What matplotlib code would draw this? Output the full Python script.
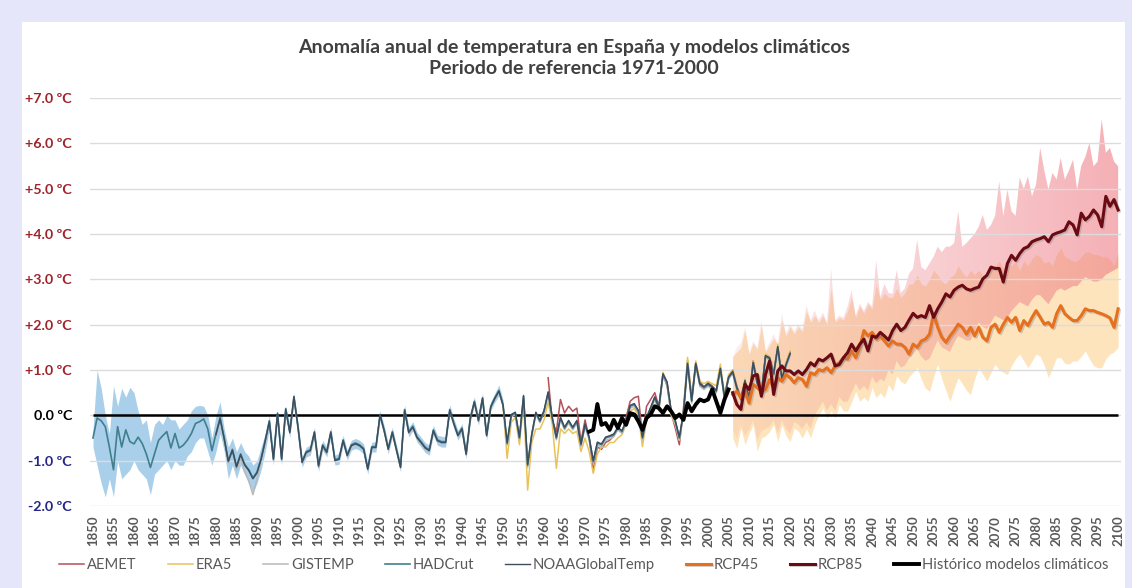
import numpy as np
import matplotlib
matplotlib.use("Agg")
from matplotlib import pyplot as plt
from matplotlib.patches import Rectangle
from matplotlib.colors import to_rgb
import matplotlib.patheffects as pe

plt.rcParams['font.family'] = ['Lato', 'DejaVu Sans']

# ---- data (anomalias en ºC, periodo de referencia 1971-2000) ----
years_obs = np.arange(1850, 2021)
hadcrut = [
    -0.50, -0.06, -0.12, -0.25, -0.70, -1.20, -0.25, -0.70, -0.32, -0.58,
    -0.63, -0.48, -0.62, -0.85, -1.15, -0.85, -0.55, -0.45, -0.36, -0.72,
    -0.40, -0.72, -0.66, -0.55, -0.40, -0.18, -0.14, -0.08, -0.30, -0.78,
    -0.40, -0.05, -0.50, -1.00, -0.75, -1.12, -0.85, -1.08, -1.20, -1.38,
    -1.25, -0.95, -0.55, -0.12, -0.95, 0.05, -0.95, 0.15, -0.36, 0.40,
    -0.25, -1.02, -0.80, -0.76, -0.36, -1.10, -0.65, -0.80, -0.36, -0.98,
    -0.95, -0.54, -0.87, -0.65, -0.61, -0.65, -0.73, -1.17, -0.69, -0.69,
    0.00, -0.32, -0.73, -0.36, -0.75, -1.13, 0.13, -0.36, -0.24, -0.47,
    -0.58, -0.70, -0.76, -0.32, -0.54, -0.58, -0.58, 0.13, -0.17, -0.43,
    -0.28, -0.84, -0.06, 0.31, -0.10, 0.39, -0.43, 0.20, 0.39, 0.55,
    0.24, -0.62, 0.00, 0.05, -0.50, 0.42, -1.10, -0.43, 0.05, -0.13,
    0.09, 0.50, -0.06, -0.50, -0.06, -0.28, -0.13, -0.28, -0.13, -0.65,
    -0.21, -0.50, -1.02, -0.61, -0.65, -0.50, -0.47, -0.43, -0.28, -0.36,
    -0.13, 0.20, 0.24, 0.09, -0.50, -0.06, 0.16, 0.39, 0.16, 0.90,
    0.72, 0.09, -0.13, -0.50, 0.05, 1.13, 0.31, 1.13, 0.68, 0.61,
    0.68, 0.61, 0.53, 1.02, 0.39, 0.83, 0.95, 0.60, 0.35, 0.75,
    0.35, 1.15, 0.70, 0.45, 1.30, 1.25, 0.90, 1.50, 0.80, 1.10,
    1.35]

# rango de incertidumbre HADCrut
years_band = np.arange(1850, 1951)
hadcrut_hi = [
    -0.30, 1.00, 0.60, 0.00, -0.40, 0.65, 0.20, 0.60, 0.40, 0.62,
    0.50, 0.10, -0.20, -0.10, -0.60, -0.20, -0.10, -0.20, 0.00, -0.10,
    -0.10, -0.30, -0.20, -0.10, 0.10, 0.20, 0.22, 0.20, 0.00, -0.50,
    0.00, 0.30, -0.30, -0.70, -0.50, -0.80, -0.60, -0.80, -0.90, -1.10,
    -1.00, -0.70, -0.40, 0.00, -0.80, 0.10, -0.80, 0.20, -0.20, 0.50,
    -0.15, -0.92, -0.70, -0.66, -0.26, -0.98, -0.55, -0.70, -0.26, -0.88,
    -0.83, -0.44, -0.77, -0.55, -0.51, -0.55, -0.63, -1.05, -0.59, -0.59,
    0.10, -0.22, -0.63, -0.26, -0.65, -1.03, 0.23, -0.26, -0.14, -0.37,
    -0.48, -0.60, -0.66, -0.22, -0.44, -0.46, -0.48, 0.23, -0.07, -0.33,
    -0.18, -0.74, 0.04, 0.41, 0.00, 0.49, -0.33, 0.30, 0.49, 0.67,
    0.34]
hadcrut_lo = [
    -0.70, -1.10, -1.50, -1.80, -1.40, -1.80, -1.00, -1.40, -1.30, -1.20,
    -1.00, -1.20, -1.30, -1.40, -1.75, -1.30, -1.20, -1.10, -1.00, -1.20,
    -1.00, -1.10, -1.10, -0.90, -0.80, -0.60, -0.50, -0.50, -0.80, -1.10,
    -0.80, -0.40, -0.80, -1.40, -1.10, -1.40, -1.10, -1.30, -1.50, -1.70,
    -1.50, -1.20, -0.80, -0.30, -1.10, -0.10, -1.10, 0.00, -0.50, 0.30,
    -0.35, -1.15, -0.92, -0.88, -0.48, -1.24, -0.77, -0.92, -0.48, -1.10,
    -1.08, -0.66, -0.99, -0.77, -0.73, -0.77, -0.85, -1.30, -0.81, -0.81,
    -0.10, -0.44, -0.85, -0.48, -0.87, -1.25, 0.03, -0.48, -0.34, -0.59,
    -0.70, -0.82, -0.88, -0.44, -0.66, -0.70, -0.70, 0.03, -0.29, -0.55,
    -0.38, -0.96, -0.16, 0.21, -0.22, 0.29, -0.55, 0.10, 0.29, 0.43,
    0.14]

years_gis = np.arange(1880, 2021)
gistemp = [
    -0.45, -0.10, -0.55, -1.05, -0.80, -1.20, -0.95, -1.25, -1.45, -1.75,
    -1.40, -1.00, -0.60, -0.15, -1.00, 0.00, -1.00, 0.10, -0.40, 0.35,
    -0.30, -1.05, -0.85, -0.80, -0.40, -1.15, -0.70, -0.85, -0.40, -1.00,
    -0.98, -0.58, -0.90, -0.68, -0.64, -0.68, -0.76, -1.20, -0.72, -0.72,
    -0.03, -0.35, -0.76, -0.40, -0.78, -1.16, 0.10, -0.40, -0.28, -0.50,
    -0.62, -0.74, -0.80, -0.36, -0.58, -0.62, -0.62, 0.10, -0.20, -0.46,
    -0.32, -0.88, -0.10, 0.28, -0.14, 0.36, -0.46, 0.17, 0.36, 0.52,
    0.20, -0.66, -0.04, 0.02, -0.54, 0.38, -1.15, -0.47, 0.02, -0.16,
    0.06, 0.47, -0.10, -0.54, -0.10, -0.32, -0.17, -0.32, -0.17, -0.69,
    -0.25, -0.54, -1.06, -0.65, -0.70, -0.55, -0.52, -0.47, -0.32, -0.40,
    -0.17, 0.16, 0.20, 0.05, -0.54, -0.10, 0.12, 0.35, 0.12, 0.86,
    0.68, 0.05, -0.17, -0.55, 0.01, 1.10, 0.27, 1.10, 0.64, 0.57,
    0.64, 0.57, 0.49, 0.98, 0.35, 0.80, 0.92, 0.56, 0.31, 0.71,
    0.31, 1.12, 0.66, 0.41, 1.27, 1.22, 0.86, 1.47, 0.76, 1.06,
    1.32]
noaa = [
    -0.42, -0.08, -0.52, -1.02, -0.77, -1.14, -0.87, -1.10, -1.22, -1.40,
    -1.27, -0.97, -0.57, -0.14, -0.97, 0.03, -0.97, 0.13, -0.38, 0.42,
    -0.27, -1.04, -0.82, -0.78, -0.38, -1.12, -0.67, -0.82, -0.38, -1.00,
    -0.97, -0.56, -0.89, -0.67, -0.63, -0.67, -0.75, -1.19, -0.71, -0.71,
    0.02, -0.34, -0.75, -0.38, -0.77, -1.15, 0.11, -0.38, -0.26, -0.49,
    -0.60, -0.72, -0.78, -0.34, -0.56, -0.60, -0.60, 0.11, -0.19, -0.45,
    -0.30, -0.86, -0.08, 0.29, -0.12, 0.37, -0.45, 0.18, 0.37, 0.53,
    0.22, -0.60, 0.02, 0.07, -0.48, 0.44, -1.08, -0.41, 0.07, -0.11,
    0.11, 0.52, -0.04, -0.48, -0.04, -0.26, -0.11, -0.26, -0.11, -0.63,
    -0.19, -0.48, -1.00, -0.59, -0.63, -0.48, -0.45, -0.41, -0.26, -0.34,
    -0.11, 0.22, 0.26, 0.11, -0.48, -0.04, 0.18, 0.41, 0.18, 0.92,
    0.74, 0.11, -0.11, -0.48, 0.07, 1.15, 0.33, 1.15, 0.70, 0.63,
    0.70, 0.63, 0.55, 1.04, 0.41, 0.85, 0.97, 0.62, 0.37, 0.77,
    0.37, 1.17, 0.72, 0.47, 1.32, 1.27, 0.92, 1.52, 0.82, 1.12,
    1.37]

years_era5 = np.arange(1950, 2021)
era5 = [
    0.20, -0.95, -0.15, -0.05, -0.65, 0.30, -1.65, -0.60, -0.30, -0.30,
    -0.10, 0.30, -0.20, -1.17, -0.30, -0.40, -0.30, -0.40, -0.35, -0.80,
    -0.50, -0.80, -1.28, -0.85, -0.70, -0.70, -0.60, -0.60, -0.50, -0.43,
    -0.20, 0.10, 0.15, 0.00, -0.69, -0.10, 0.10, 0.35, 0.10, 0.95,
    0.70, 0.00, -0.20, -0.55, 0.10, 1.28, 0.35, 1.20, 0.75, 0.70,
    0.75, 0.70, 0.65, 1.13, 0.45, 0.90, 1.00, 0.62, 0.40, 0.80,
    0.38, 1.20, 0.75, 0.48, 1.35, 1.30, 0.95, 1.57, 0.85, 1.15,
    1.42]

years_aemet = np.arange(1961, 2021)
aemet = [
    0.83, -0.13, -0.36, 0.35, 0.05, 0.20, 0.09, 0.16, -0.58,
    -0.10, -0.50, -1.24, -0.70, -0.75, -0.60, -0.55, -0.45, -0.30, -0.15,
    -0.05, 0.31, 0.39, 0.42, -0.45, 0.20, 0.35, 0.50, 0.20, 0.90,
    0.65, 0.05, -0.28, -0.65, 0.15, 1.21, 0.40, 1.15, 0.75, 0.62,
    0.72, 0.65, 0.55, 1.05, 0.45, 0.80, 1.00, 0.65, 0.40, 0.75,
    0.40, 1.20, 0.75, 0.50, 1.30, 1.28, 0.95, 1.50, 0.85, 1.15,
    1.40]

years_hist_mod = np.arange(1971, 2006)
hist_modelos = [
    -0.36, -0.32, 0.25, -0.21, -0.17, -0.32, -0.10, -0.28, -0.06, -0.21,
    0.05, 0.02, -0.13, -0.32, -0.06, 0.02, 0.20, 0.16, 0.05, 0.20,
    0.09, -0.06, 0.02, -0.10, 0.27, 0.09, 0.24, 0.35, 0.31, 0.35,
    0.57, 0.31, 0.05, 0.35, 0.57]

years_rcp = np.arange(2006, 2101)
rcp85 = [
    0.50, 0.24, 0.13, 0.68, 0.57, 0.87, 0.90, 0.42, 0.90, 1.20,
    0.46, 0.98, 1.09, 0.98, 0.98, 0.90, 0.98, 0.90, 1.01, 1.16,
    1.09, 1.24, 1.20, 1.27, 1.35, 1.09, 1.12, 1.27, 1.38, 1.57,
    1.42, 1.57, 1.68, 1.42, 1.75, 1.72, 1.83, 1.75, 1.66, 1.87,
    2.01, 1.87, 1.94, 2.10, 2.25, 2.16, 2.20, 2.16, 2.42, 2.16,
    2.35, 2.50, 2.68, 2.61, 2.76, 2.83, 2.87, 2.79, 2.76, 2.80,
    2.83, 3.01, 3.09, 3.27, 3.24, 3.24, 2.94, 3.35, 3.53, 3.42,
    3.57, 3.68, 3.72, 3.83, 3.87, 3.90, 3.94, 3.83, 3.98, 4.02,
    4.05, 4.09, 4.27, 4.20, 3.98, 4.46, 4.31, 4.39, 4.53, 4.42,
    4.16, 4.83, 4.61, 4.76, 4.53]
rcp85_hi = [
    1.27, 1.50, 1.60, 1.94, 1.40, 1.64, 1.50, 2.09, 1.42, 1.60,
    1.79, 1.60, 2.24, 1.80, 2.01, 1.85, 2.01, 1.90, 2.42, 2.10,
    2.31, 2.10, 2.27, 2.05, 3.24, 2.09, 2.20, 2.15, 2.40, 2.76,
    2.20, 2.46, 2.30, 2.50, 2.40, 3.42, 2.61, 2.90, 2.70, 2.68,
    3.20, 2.70, 2.80, 3.12, 3.24, 3.87, 3.27, 3.20, 3.35, 3.50,
    3.72, 3.60, 3.72, 3.72, 3.80, 4.50, 3.72, 3.80, 3.90, 4.00,
    4.16, 4.42, 4.09, 4.20, 4.40, 5.16, 4.40, 4.98, 4.50, 4.40,
    5.24, 5.00, 5.27, 4.83, 5.10, 5.90, 5.40, 4.98, 5.35, 5.20,
    5.68, 5.20, 5.40, 5.64, 4.98, 5.50, 5.70, 6.01, 5.49, 5.60,
    6.53, 5.79, 5.90, 5.60, 5.49]
rcp85_lo = [
    -0.30, -0.50, -0.20, -0.45, -0.30, -0.10, -0.55, -0.35, -0.30, -0.25,
    -0.10, -0.40, -0.10, -0.30, -0.40, -0.15, -0.20, -0.30, -0.15, -0.30,
    0.00, 0.15, 0.30, 0.10, 0.25, 0.10, 0.40, 0.30, 0.30, 0.50,
    0.70, 0.55, 0.65, 0.55, 0.85, 0.70, 0.80, 0.75, 1.00, 0.90,
    1.20, 1.05, 1.10, 1.25, 1.35, 1.45, 1.30, 1.20, 1.25, 1.45,
    1.65, 1.50, 1.45, 1.40, 1.60, 1.75, 1.70, 1.65, 1.65, 1.85,
    2.05, 1.95, 1.90, 2.05, 2.20, 2.15, 2.10, 2.15, 2.30, 2.40,
    2.50, 2.45, 2.40, 2.55, 2.65, 2.65, 2.55, 2.45, 2.60, 2.75,
    2.80, 2.75, 2.80, 2.85, 2.85, 2.95, 3.05, 3.00, 2.95, 2.95,
    3.00, 3.10, 3.15, 3.20, 3.25]
rcp45 = [
    0.46, 0.53, 0.39, 0.53, 0.27, 0.68, 0.61, 0.53, 0.57, 0.79,
    0.61, 0.83, 0.75, 0.90, 0.83, 0.72, 0.83, 0.79, 0.64, 0.94,
    0.90, 1.01, 0.98, 1.05, 0.94, 1.09, 1.16, 1.27, 1.24, 1.42,
    1.27, 1.50, 1.87, 1.75, 1.83, 1.68, 1.75, 1.64, 1.53, 1.64,
    1.57, 1.57, 1.50, 1.35, 1.57, 1.50, 1.64, 1.68, 1.79, 2.24,
    1.94, 1.72, 1.61, 1.75, 1.87, 2.01, 1.94, 1.79, 1.94, 1.75,
    1.94, 1.72, 1.64, 1.94, 2.01, 1.83, 2.01, 2.16, 2.05, 2.16,
    1.87, 2.09, 1.98, 2.16, 2.31, 2.16, 2.01, 2.05, 1.94, 2.24,
    2.42, 2.24, 2.16, 2.09, 2.09, 2.20, 2.35, 2.31, 2.31, 2.27,
    2.24, 2.20, 2.15, 1.94, 2.35]
rcp45_hi = [
    1.30, 1.40, 1.50, 1.90, 1.35, 1.60, 1.45, 2.00, 1.40, 1.55,
    1.70, 1.55, 2.10, 1.75, 1.95, 1.80, 1.95, 1.85, 2.30, 2.05,
    2.20, 2.05, 2.20, 2.00, 2.80, 2.05, 2.15, 2.10, 2.30, 2.60,
    2.15, 2.40, 2.25, 2.45, 2.35, 2.90, 2.55, 2.70, 2.60, 2.60,
    2.80, 2.60, 2.70, 2.90, 2.90, 3.10, 2.90, 2.85, 3.00, 3.20,
    3.10, 2.95, 2.90, 3.05, 3.10, 3.30, 3.15, 3.05, 3.20, 3.10,
    3.20, 3.10, 3.00, 3.25, 3.30, 3.40, 3.25, 3.35, 3.30, 3.40,
    3.20, 3.40, 3.30, 3.45, 3.55, 3.50, 3.35, 3.40, 3.30, 3.55,
    3.70, 3.50, 3.45, 3.40, 3.40, 3.50, 3.60, 3.60, 3.55, 3.55,
    3.50, 3.50, 3.45, 3.30, 3.60]
rcp45_lo = [
    -0.50, -0.73, -0.28, -0.65, -0.40, -0.20, -0.80, -0.50, -0.45, -0.36,
    -0.20, -0.58, -0.21, -0.45, -0.58, -0.28, -0.35, -0.50, -0.30, -0.50,
    -0.20, 0.00, 0.16, -0.06, 0.10, -0.06, 0.24, 0.10, 0.09, 0.30,
    0.53, 0.31, 0.40, 0.31, 0.61, 0.39, 0.50, 0.39, 0.68, 0.53,
    0.87, 0.75, 0.69, 0.85, 0.95, 1.05, 0.80, 0.60, 0.53, 0.85,
    1.13, 0.80, 0.55, 0.31, 0.60, 0.83, 0.70, 0.55, 0.46, 0.80,
    1.05, 0.90, 0.76, 0.95, 1.13, 1.00, 0.95, 0.90, 1.10, 1.25,
    1.35, 1.20, 1.05, 1.20, 1.35, 1.30, 1.10, 0.83, 1.05, 1.27,
    1.27, 1.15, 1.13, 1.20, 1.20, 1.30, 1.42, 1.25, 1.10, 1.05,
    1.05, 1.25, 1.35, 1.40, 1.50]

y_ticks = list(range(-2, 8))
x_ticks = list(range(1850, 2101, 5))

# ---- figure ----
W, H = 1132, 588
fig = plt.figure(figsize=(W / 100, H / 100), dpi=100)
fig.patch.set_facecolor('#e6e6fa')
fig.patches.append(Rectangle((22 / W, 0), 1103 / W, 566 / H, transform=fig.transFigure,
                             facecolor='white', edgecolor='none', zorder=-10))

ax = fig.add_axes([90 / W, 82 / H, 1031 / W, 408 / H])
ax.set_facecolor('none')

# bandas
ax.fill_between(years_rcp, rcp45_lo, rcp45_hi, color='#fdd9a0', alpha=0.7, lw=0, zorder=1)

# RCP85: relleno con degradado (mas intenso hacia 2100)
band85 = ax.fill_between(years_rcp, rcp85_lo, rcp85_hi, facecolor='none', lw=0, zorder=1)
grad = np.zeros((1, 256, 4))
grad[..., :3] = to_rgb('#ee8088')
grad[..., 3] = np.linspace(0.12, 0.62, 256)
im = ax.imshow(grad, extent=(years_rcp[0], years_rcp[-1], -2, 7), aspect='auto',
               interpolation='bilinear', zorder=1)
im.set_clip_path(band85.get_paths()[0], transform=ax.transData)

ax.fill_between(years_band, hadcrut_lo, hadcrut_hi, color='#8ec0e4', alpha=0.75, lw=0, zorder=1)

ax.hlines(0, years_obs[0], years_rcp[-1], color='black', lw=1.8, zorder=2)

shadow = [pe.SimpleLineShadow(offset=(1, -1), shadow_color='gray', alpha=0.35), pe.Normal()]

l_aemet, = ax.plot(years_aemet, aemet, color='#b4505a', lw=1.1, zorder=3, label='AEMET')
l_era5, = ax.plot(years_era5, era5, color='#e8c35a', lw=1.1, zorder=3, label='ERA5')
l_gis, = ax.plot(years_gis, gistemp, color='#b8b8b8', lw=1.1, zorder=3, label='GISTEMP')
l_had, = ax.plot(years_obs, hadcrut, color='#3f7f8e', lw=1.2, zorder=3, label='HADCrut')
l_noaa, = ax.plot(years_gis, noaa, color='#3e4c5c', lw=1.0, zorder=3, label='NOAAGlobalTemp')
l_45, = ax.plot(years_rcp, rcp45, color='#e6701e', lw=2.2, zorder=4, label='RCP45',
                path_effects=shadow)
l_85, = ax.plot(years_rcp, rcp85, color='#6a0a12', lw=2.2, zorder=4, label='RCP85',
                path_effects=shadow)
l_hist, = ax.plot(years_hist_mod, hist_modelos, color='black', lw=2.8, zorder=5,
                  label='Histórico modelos climáticos')

ax.set_xlim(1849.27, 2100.7)
ax.set_ylim(-2, 7)
ax.set_yticks(y_ticks)
ax.set_xticks(x_ticks)
ax.grid(axis='y', color='#dcdcdc', lw=1, zorder=0)
for s in ax.spines.values():
    s.set_visible(False)
ax.tick_params(length=0)

ylabels = []
for v in y_ticks:
    ylabels.append('0.0 ºC' if v == 0 else f'{v:+.1f} ºC')
ax.set_yticklabels(ylabels, fontsize=10.3, fontweight='bold')
ax.tick_params(axis='y', pad=13)
for lab, v in zip(ax.get_yticklabels(), y_ticks):
    lab.set_color('#a0222a' if v > 0 else ('black' if v == 0 else '#25258a'))

ax.set_xticklabels([str(y) for y in x_ticks], rotation=90, fontsize=9.5,
                   fontweight='bold', color='#595959')
ax.tick_params(axis='x', pad=7)

fig.text(574 / W, 1 - 47 / H, 'Anomalía anual de temperatura en España y modelos climáticos',
         ha='center', va='center', fontsize=14, fontweight='bold', color='#404040')
fig.text(574 / W, 1 - 69 / H, 'Periodo de referencia 1971-2000',
         ha='center', va='center', fontsize=14, fontweight='bold', color='#404040')

handles = [l_aemet, l_era5, l_gis, l_had, l_noaa, l_45, l_85, l_hist]
leg = fig.legend(handles=handles, labels=[h.get_label() for h in handles], ncol=8,
                 loc='center', bbox_to_anchor=(584 / W, 1 - 565 / H), frameon=False,
                 fontsize=10.6, handlelength=1.7, handletextpad=0.2, columnspacing=2.1,
                 labelcolor='#595959')

fig.savefig('out.png', dpi=100)
